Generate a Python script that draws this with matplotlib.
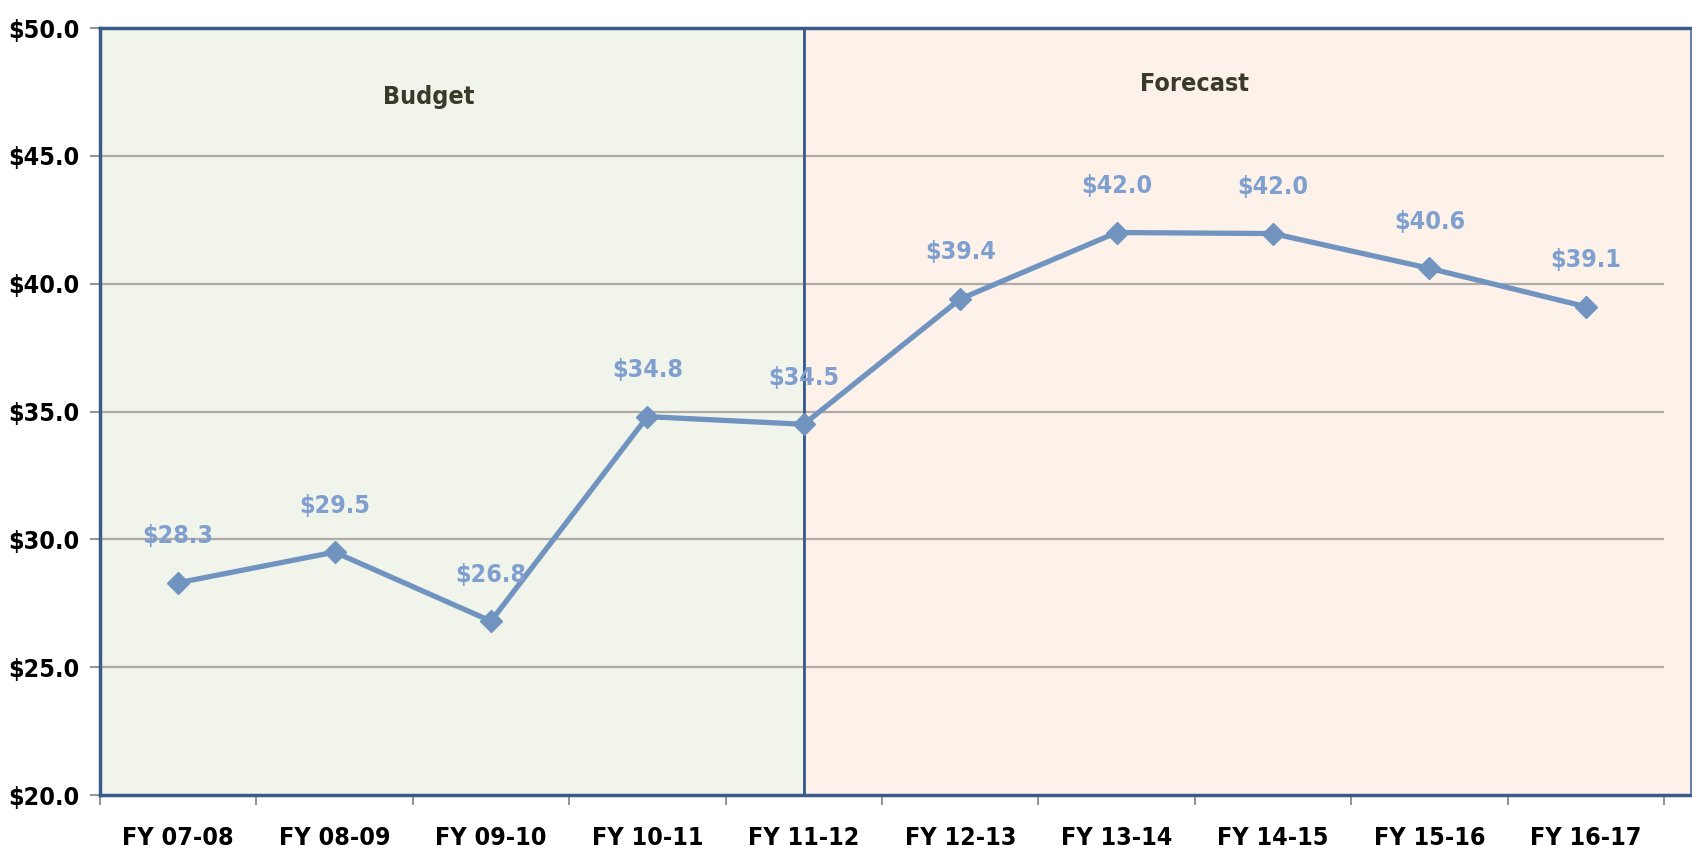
import matplotlib
matplotlib.use("Agg")
import matplotlib.pyplot as plt
from matplotlib.patches import Rectangle

# Data
years = ["FY 07-08", "FY 08-09", "FY 09-10", "FY 10-11", "FY 11-12",
         "FY 12-13", "FY 13-14", "FY 14-15", "FY 15-16", "FY 16-17"]
values = [28.3, 29.5, 26.8, 34.8, 34.5, 39.4, 42.0, 41.96, 40.6, 39.1]
y_ticks = [20, 25, 30, 35, 40, 45, 50]
split = 4   # budget up to FY 11-12, forecast after

plt.rcParams['font.family'] = ['DejaVu Sans']
plt.rcParams['font.stretch'] = 'condensed'

fig = plt.figure(figsize=(16.92, 8.55), dpi=100)
ax = fig.add_axes([100 / 1692, 60 / 855, 1564 / 1692, 767 / 855])

x = list(range(len(years)))
n = len(years)

# background panels
ax.add_patch(Rectangle((-0.5, 20), split + 0.5, 30, facecolor='#f1f4eb',
                       edgecolor='none', zorder=0))
ax.add_patch(Rectangle((split, 20), n - 0.5 - split + 0.17, 30,
                       facecolor='#fdf2e9', edgecolor='#4a6894', lw=1.2,
                       zorder=0, clip_on=False))

for yv in y_ticks[1:-1]:
    ax.axhline(yv, color='#b0aaa4', lw=1.6, zorder=1)

ax.axvline(split, color='#3a5a8c', lw=2, zorder=2)

ax.plot(x, values, color='#7093c0', lw=3.8, marker='D', markersize=11,
        zorder=3)
for xi, v in zip(x, values):
    ax.text(xi, v + 1.35, f"${v:.1f}", ha='center', va='bottom',
            color='#7f9fcf', fontsize=18, fontweight='bold', zorder=4)

ax.text(1.6, 47.3, "Budget", ha='center', va='center', fontsize=18,
        fontweight='bold', color='#3a3a2a')
ax.text(6.5, 47.8, "Forecast", ha='center', va='center', fontsize=18,
        fontweight='bold', color='#3a3a2a')

ax.set_xlim(-0.5, n - 0.5)
ax.set_ylim(20, 50)
ax.set_yticks(y_ticks)
ax.set_yticklabels([f"${t:.1f}" for t in y_ticks], fontsize=18,
                   fontweight='bold')
ax.set_xticks(x)
ax.set_xticklabels(years, fontsize=18, fontweight='bold')
ax.set_xticks([i - 0.5 for i in range(n + 1)], minor=True)
ax.tick_params(axis='x', which='major', length=0, pad=22)
ax.tick_params(axis='x', which='minor', length=7, color='#808080', width=1.2)
ax.tick_params(axis='y', length=7, color='#808080', width=1.2, pad=8)

for side in ['left', 'top', 'bottom']:
    ax.spines[side].set_color('#3a5a8c')
    ax.spines[side].set_linewidth(2.5)
ax.spines['right'].set_visible(False)
ax.spines['top'].set_bounds(-0.5, n - 0.33)
ax.spines['bottom'].set_bounds(-0.5, n - 0.33)

fig.savefig("out.png", dpi=100)
